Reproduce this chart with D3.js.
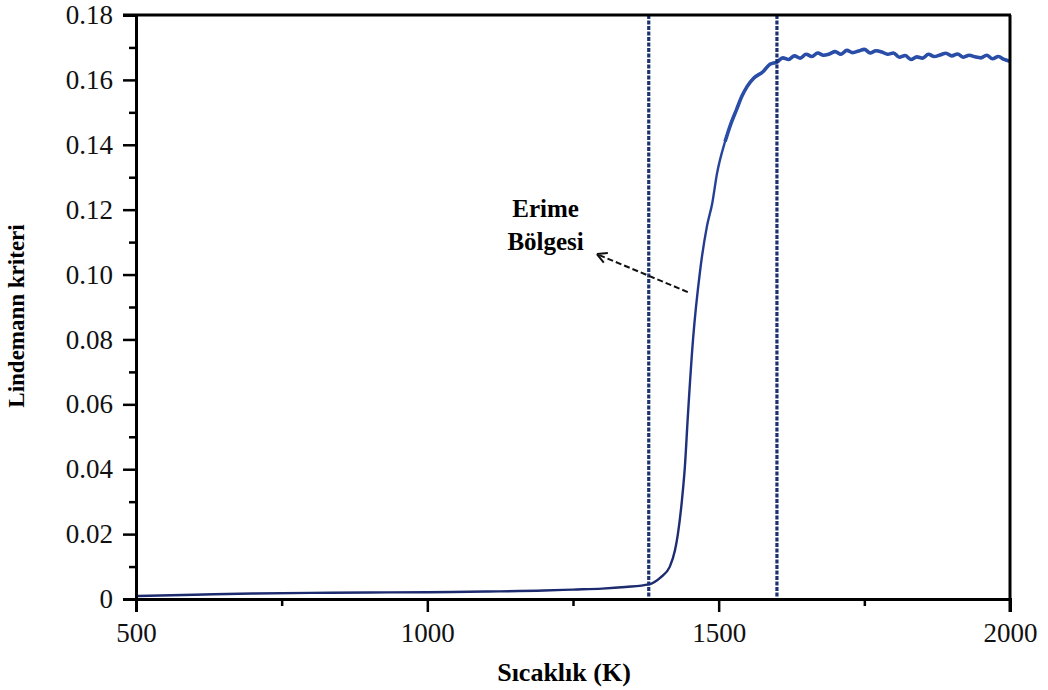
<!DOCTYPE html>
<meta charset="utf-8">
<script src="https://d3js.org/d3.v7.min.js"></script>
<style>
  body { margin: 0; background: #fff; }
  text { font-family: "Liberation Serif", "Times New Roman", serif; }
</style>
<div id="chart"></div>
<script>
// temperature (K) and Lindemann criterion
var temperature = [500, 600, 700, 800, 900, 1000, 1100, 1200, 1250, 1300, 1340, 1380,
  1400, 1416, 1425, 1430, 1437, 1442, 1447, 1456, 1468, 1480, 1489, 1497, 1511, 1520, 1531,
  1540, 1549, 1560, 1576, 1588, 1600, 1610, 1620, 1630, 1640, 1650, 1660, 1670, 1680, 1690, 1700, 1710,
  1720, 1730, 1740, 1750, 1760, 1770, 1780, 1790, 1800, 1810, 1820, 1830, 1840, 1850,
  1860, 1870, 1880, 1890, 1900, 1910, 1920, 1930, 1940, 1950, 1960, 1970, 1980, 1990, 2000];
var lindemann = [0.0009, 0.0013, 0.0017, 0.0019, 0.0020, 0.0021, 0.0023, 0.0026, 0.0029, 0.0032, 0.0037, 0.0045,
  0.0066, 0.0099, 0.015, 0.020, 0.0305, 0.0407, 0.056, 0.080, 0.101, 0.115, 0.122, 0.131, 0.141, 0.146, 0.151,
  0.155, 0.158, 0.1605, 0.1625, 0.1648, 0.1655, 0.1668, 0.1663, 0.1674, 0.1667, 0.1679, 0.1672, 0.1683, 0.1676, 0.1680, 0.1687, 0.1679,
  0.1691, 0.1684, 0.1689, 0.1694, 0.1683, 0.1690, 0.1686, 0.1679, 0.1683, 0.1670, 0.1675, 0.1663, 0.1671, 0.1667,
  0.1679, 0.1672, 0.1677, 0.1682, 0.1674, 0.1680, 0.1670, 0.1676, 0.1671, 0.1668, 0.1676, 0.1665, 0.1672, 0.1663, 0.1657];

// melting region limits (dashed lines)
var meltLimits = [1380, 1600];

var xTicks = [500, 1000, 1500, 2000];
var xMinorTicks = [750, 1250, 1750];
var yTicks = [0, 0.02, 0.04, 0.06, 0.08, 0.10, 0.12, 0.14, 0.16, 0.18];
var yMinorTicks = [0.01, 0.03, 0.05, 0.07, 0.09, 0.11, 0.13, 0.15, 0.17];

// annotation: label lines and arrow (tail -> head) in data units
var noteLines = ["Erime", "Bölgesi"];
var noteAt = {x: 1203, y: [0.1177, 0.1075]};
var arrowTail = [1447, 0.0946];
var arrowHead = [1291, 0.1063];

var margin = {top: 15, right: 38, bottom: 91, left: 136},
    width = 1048 - margin.left - margin.right,
    height = 690 - margin.top - margin.bottom;

var svg = d3.select("#chart")
  .append("svg")
    .attr("width", 1048)
    .attr("height", 690)
  .append("g")
    .attr("transform", "translate(" + margin.left + "," + margin.top + ")");

var x = d3.scaleLinear().domain([500, 2000]).range([0, width]);
var y = d3.scaleLinear().domain([0, 0.18]).range([height, 0]);

var grad = svg.append("defs").append("linearGradient")
    .attr("id", "lineGrad")
    .attr("gradientUnits", "userSpaceOnUse")
    .attr("x1", 0).attr("x2", 0)
    .attr("y1", y(0)).attr("y2", y(0.18));
grad.append("stop").attr("offset", "0%").attr("stop-color", "#1c2a6e");
grad.append("stop").attr("offset", "55%").attr("stop-color", "#22378a");
grad.append("stop").attr("offset", "100%").attr("stop-color", "#2c55b0");

// data line
var pts = temperature.map(function(t, i) { return [t, lindemann[i]]; });
var line = d3.line()
    .curve(d3.curveMonotoneX)
    .x(function(d) { return x(d[0]); })
    .y(function(d) { return y(d[1]); });
svg.append("path")
  .datum(pts)
  .attr("fill", "none")
  .attr("stroke", "url(#lineGrad)")
  .attr("stroke-width", 2.4)
  .attr("stroke-linejoin", "round")
  .attr("d", line);
// thicker noisy band on the liquid plateau
svg.append("path")
  .datum(pts.filter(function(d) { return d[0] >= 1500; }))
  .attr("fill", "none")
  .attr("stroke", "#2a4ea8")
  .attr("stroke-width", 3.6)
  .attr("stroke-linejoin", "round")
  .attr("d", line);

// dashed melting limits
svg.selectAll(".melt")
  .data(meltLimits)
  .enter()
  .append("line")
    .attr("x1", function(d) { return x(d); })
    .attr("x2", function(d) { return x(d); })
    .attr("y1", y(0.18))
    .attr("y2", y(0))
    .attr("stroke", "#1c3170")
    .attr("stroke-width", 3.2)
    .attr("stroke-dasharray", "4,1.5");

// frame top + right
svg.append("line")
  .attr("x1", -13).attr("x2", width + 1)
  .attr("y1", 0).attr("y2", 0)
  .attr("stroke", "#000").attr("stroke-width", 3);
svg.append("line")
  .attr("x1", width).attr("x2", width)
  .attr("y1", 0).attr("y2", height + 13)
  .attr("stroke", "#000").attr("stroke-width", 3);

// X axis
svg.append("g")
  .attr("transform", "translate(0," + height + ")")
  .call(d3.axisBottom(x).tickValues(xTicks).tickSize(13).tickPadding(11).tickFormat(d3.format("d")));
svg.append("g")
  .attr("transform", "translate(0," + height + ")")
  .call(d3.axisBottom(x).tickValues(xMinorTicks).tickSize(7).tickFormat(""))
  .select(".domain").remove();

// Y axis
svg.append("g")
  .call(d3.axisLeft(y).tickValues(yTicks).tickSize(13).tickPadding(10)
    .tickFormat(function(d) { return d === 0 ? "0" : d3.format(".2f")(d); }));
svg.append("g")
  .call(d3.axisLeft(y).tickValues(yMinorTicks).tickSize(7).tickFormat(""))
  .select(".domain").remove();

svg.selectAll(".domain").attr("stroke-width", 3);
svg.selectAll(".tick line").attr("stroke-width", 2.5);
svg.selectAll(".tick text")
  .attr("font-family", "Liberation Serif, Times New Roman, serif")
  .attr("font-size", 27)
  .attr("fill", "#111");

// axis labels
svg.append("text")
  .attr("x", width / 2 - 9)
  .attr("y", height + 82)
  .attr("text-anchor", "middle")
  .attr("font-size", 26)
  .attr("font-weight", "bold")
  .text("Sıcaklık (K)");

svg.append("text")
  .attr("transform", "translate(" + (24 - margin.left) + "," + (height / 2 + 9) + ") rotate(-90)")
  .attr("text-anchor", "middle")
  .attr("font-size", 23)
  .attr("font-weight", "bold")
  .text("Lindemann kriteri");

// annotation
svg.selectAll(".note")
  .data(noteLines)
  .enter()
  .append("text")
    .attr("x", x(noteAt.x))
    .attr("y", function(d, i) { return y(noteAt.y[i]); })
    .attr("text-anchor", "middle")
    .attr("font-size", 25)
    .attr("font-weight", "bold")
    .text(function(d) { return d; });

var ax0 = x(arrowTail[0]), ay0 = y(arrowTail[1]),
    ax1 = x(arrowHead[0]), ay1 = y(arrowHead[1]);
svg.append("line")
  .attr("x1", ax0).attr("y1", ay0)
  .attr("x2", ax1).attr("y2", ay1)
  .attr("stroke", "#111")
  .attr("stroke-width", 2)
  .attr("stroke-dasharray", "6,3");
var ang = Math.atan2(ay0 - ay1, ax0 - ax1);
[-0.5, 0.5].forEach(function(a) {
  svg.append("line")
    .attr("x1", ax1).attr("y1", ay1)
    .attr("x2", ax1 + 11 * Math.cos(ang + a))
    .attr("y2", ay1 + 11 * Math.sin(ang + a))
    .attr("stroke", "#111")
    .attr("stroke-width", 2);
});
</script>
